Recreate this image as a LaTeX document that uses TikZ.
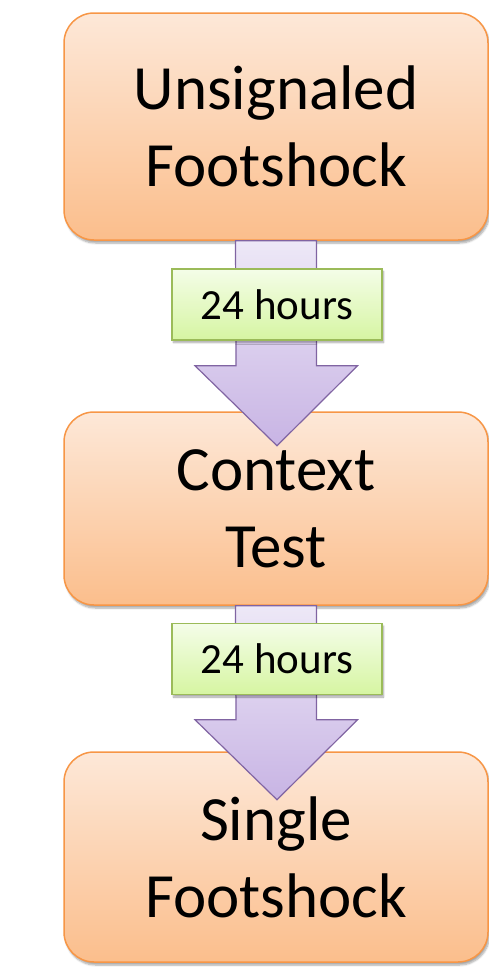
\documentclass[tikz,border=0pt]{standalone}
\usepackage{fontspec}
\setmainfont{Carlito}
\usetikzlibrary{shadows.blur,calc}
\definecolor{boxtop}{RGB}{253,232,216}
\definecolor{boxbot}{RGB}{251,190,140}
\definecolor{boxline}{RGB}{247,150,70}
\definecolor{arrtop}{RGB}{237,232,247}
\definecolor{arrbot}{RGB}{200,180,228}
\definecolor{arrline}{RGB}{128,100,162}
\definecolor{labtop}{RGB}{244,253,232}
\definecolor{labbot}{RGB}{214,245,162}
\definecolor{labline}{RGB}{155,187,89}
\begin{document}
\begin{tikzpicture}[x=1pt,y=-1pt,
  stage/.style={draw=boxline, line width=1.5pt, rounded corners=30pt,
    top color=boxtop, bottom color=boxbot,
    blur shadow={shadow xshift=1.5pt, shadow yshift=-3pt, shadow blur steps=6, shadow opacity=35},
    minimum width=424pt, align=center, inner sep=0pt,
    font=\fontsize{63}{77}\selectfont},
  blockarrow/.style={draw=arrline, line width=1.2pt, top color=arrtop, bottom color=arrbot, line join=miter},
  timelabel/.style={draw=labline, line width=1.2pt, top color=labtop, bottom color=labbot,
    blur shadow={shadow xshift=1.5pt, shadow yshift=-2.5pt, shadow blur steps=5, shadow opacity=35},
    minimum width=210pt, minimum height=71pt, inner sep=0pt,
    font=\fontsize{43}{50}\selectfont}]
\useasboundingbox (0,0) rectangle (489,970);
\node[stage, minimum height=227pt] (a) at (276,126.5) {Unsignaled\\Footshock};
\node[stage, minimum height=193pt] (b) at (276,508.5) {Context\\Test};
\node[stage, minimum height=210pt] (c) at (276,857) {Single\\Footshock};
\draw[blockarrow] ($(a.south)+(-40.5,0)$) -- ++(81,0) -- ++(0,125) -- ++(41,0)
   -- ($(a.south)+(1,205)$) -- ($(a.south)+(-81,125)$) -- ++(41,0) -- cycle;
\draw[blockarrow] ($(b.south)+(-40.5,0)$) -- ++(81,0) -- ++(0,114) -- ++(41,0)
   -- ($(b.south)+(1,194)$) -- ($(b.south)+(-81,114)$) -- ++(41,0) -- cycle;
\node[timelabel] (l1) at (277,304.5) {24 hours};
\node[timelabel] (l2) at (277,659) {24 hours};
\end{tikzpicture}
\end{document}
